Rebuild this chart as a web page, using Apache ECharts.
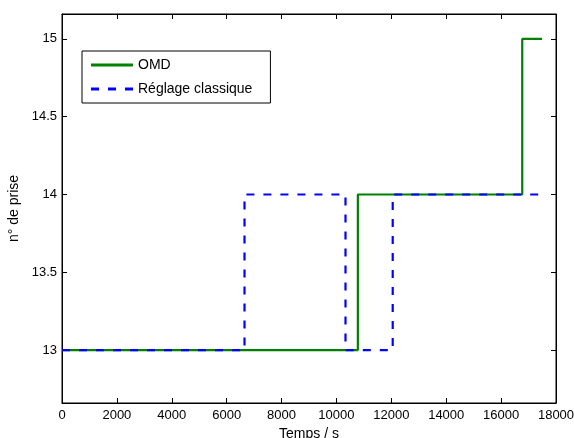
<!DOCTYPE html>
<html><head><meta charset="utf-8">
<script src="https://cdn.jsdelivr.net/npm/echarts@6/dist/echarts.min.js"></script>
<style>html,body{margin:0;padding:0;background:#fff}#c{width:574px;height:438px}</style>
</head><body><div id="c"></div>
<script>
const omdTimes = [0, 10780, 16770, 17490];
const omdValues = [13, 14, 15, 15];
const classicTimes = [0, 6650, 10330, 12050, 17490];
const classicValues = [13, 14, 13, 14, 14];
const xTicks = [0, 2000, 4000, 6000, 8000, 10000, 12000, 14000, 16000, 18000];
const yTicks = [13, 13.5, 14, 14.5, 15];
const seriesNames = ['OMD', 'Réglage classique'];

const font = 'Liberation Sans, Arial, Helvetica, sans-serif';
const chart = echarts.init(document.getElementById('c'));
const zip = (a, b) => a.map((t, i) => [t, b[i]]);
const yMin = 12.66, yMax = 15.16;
const tick = () => ({ show: true, inside: true, length: 5, lineStyle: { color: '#000', width: 1 } });
const line = () => ({ show: true, onZero: false, lineStyle: { color: '#000' } });
chart.setOption({
  animation: false,
  grid: { left: 62, right: 18, top: 14, bottom: 35, outerBoundsMode: 'none', containLabel: false,
          show: true, borderColor: '#000', borderWidth: 1 },
  legend: {
    left: 82, top: 51, orient: 'vertical', itemWidth: 42, itemHeight: 3, itemGap: 10,
    padding: [7, 18, 7, 9], borderColor: '#000', borderWidth: 1, backgroundColor: '#fff',
    textStyle: { fontFamily: font, fontSize: 14, color: '#000' },
    data: [
      { name: seriesNames[0], icon: 'path://M0,0h42v3h-42z' },
      { name: seriesNames[1], icon: 'path://M0,0h8v3h-8z M17,0h8v3h-8z M34,0h8v3h-8z' }
    ]
  },
  xAxis: [{
    type: 'value', min: 0, max: 18000, interval: 2000, position: 'bottom',
    name: 'Temps / s', nameLocation: 'middle', nameGap: 15,
    nameTextStyle: { fontFamily: font, fontSize: 14, color: '#000' },
    axisLine: line(), axisTick: tick(),
    axisLabel: { fontFamily: font, fontSize: 13, color: '#000', margin: 6, formatter: v => String(v) },
    splitLine: { show: false }
  }, {
    type: 'value', min: 0, max: 18000, interval: 2000, position: 'top',
    axisLine: line(), axisTick: tick(),
    axisLabel: { show: false }, splitLine: { show: false }
  }],
  yAxis: [{
    type: 'value', min: yMin, max: yMax, splitNumber: yTicks.length, position: 'left',
    name: 'n° de prise', nameLocation: 'middle', nameGap: 32,
    nameTextStyle: { fontFamily: font, fontSize: 14, color: '#000' },
    axisLine: line(), axisTick: tick(),
    axisLabel: { fontFamily: font, fontSize: 13, color: '#000', margin: 5,
      showMinLabel: false, showMaxLabel: false,
      formatter: v => (yTicks.indexOf(v) >= 0 ? String(v) : '') },
    splitLine: { show: false }
  }, {
    type: 'value', min: yMin, max: yMax, splitNumber: yTicks.length, position: 'right',
    axisLine: line(), axisTick: tick(),
    axisLabel: { show: false }, splitLine: { show: false }
  }],
  series: [{
    name: seriesNames[0], type: 'line', step: 'end', symbol: 'none',
    data: zip(omdTimes, omdValues),
    lineStyle: { color: '#008000', width: 2.2 }, itemStyle: { color: '#008000' }, z: 2
  }, {
    name: seriesNames[1], type: 'line', step: 'end', symbol: 'none',
    data: zip(classicTimes, classicValues),
    lineStyle: { color: '#0000ff', width: 2.2, type: [8, 9] }, itemStyle: { color: '#0000ff' }, z: 3
  }]
});
</script></body></html>
